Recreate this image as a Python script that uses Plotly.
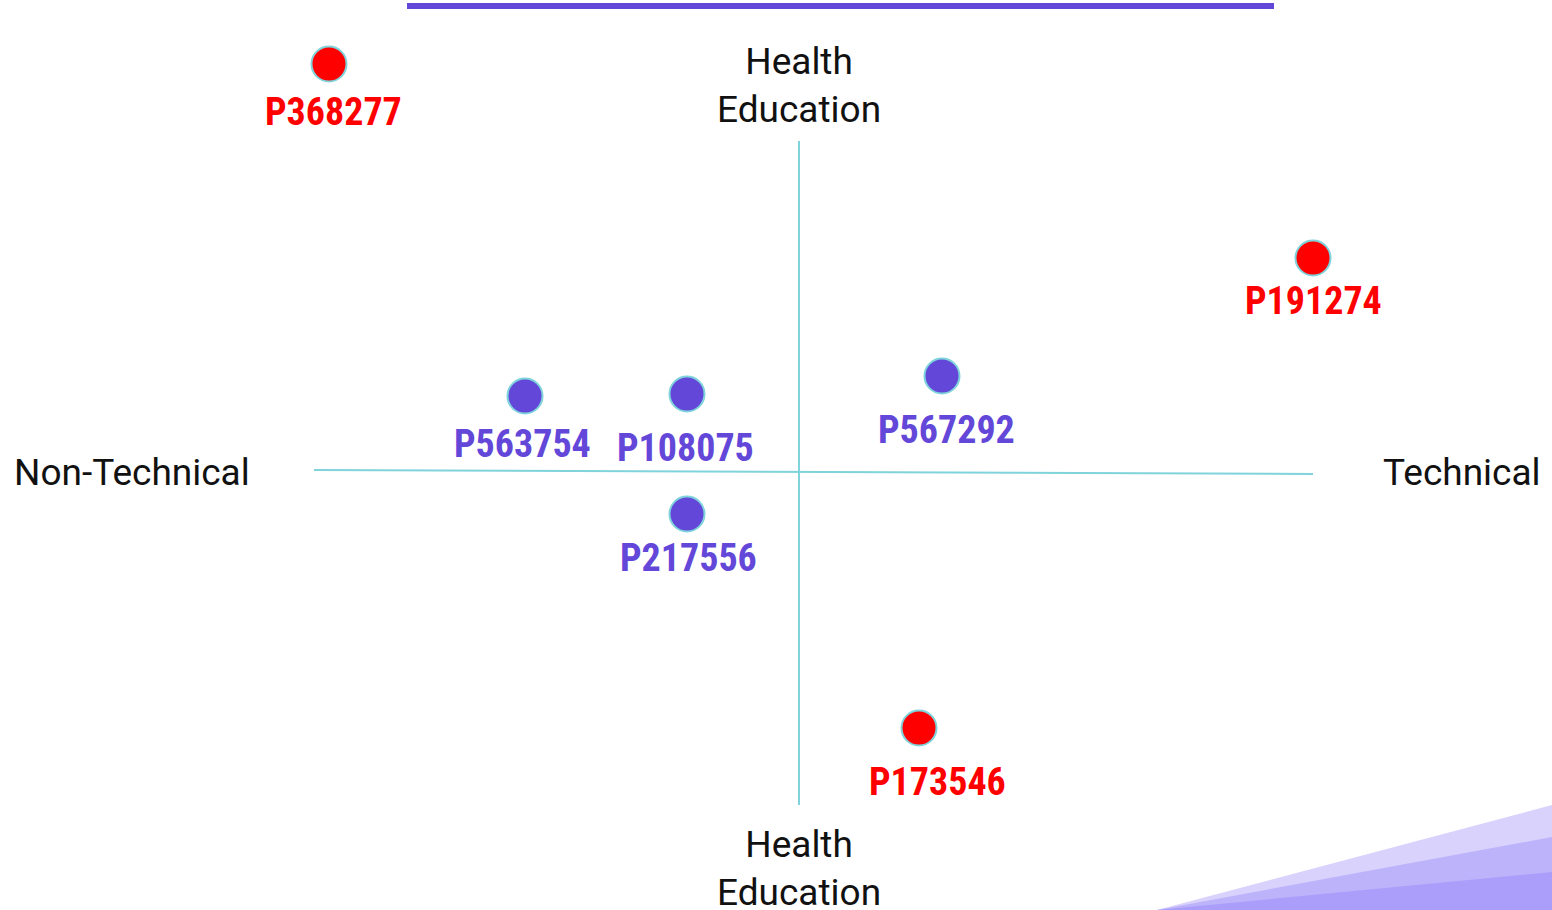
import plotly.graph_objects as go

# Data (units: axis-crossing centred, 1 unit ~ 100 px)
names = ["P368277", "P191274", "P563754", "P108075", "P567292", "P217556", "P173546"]
xs = [-4.70, 5.14, -2.74, -1.12, 1.43, -1.12, 1.20]
ys = [4.08, 2.14, 0.76, 0.78, 0.96, -0.42, -2.56]
groups = ["red", "red", "purple", "purple", "purple", "purple", "red"]

axis_labels = {"top": "Health<br>Education", "bottom": "Health<br>Education",
               "left": "Non-Technical", "right": "Technical"}

RED = "#ff0000"
PURPLE = "#6347d9"
TEAL = "#7fd3db"

# label placement (pixel shifts from marker centre)
label_dx = [4, 0, -3, -2, 4, 1, 18]
label_dy = [-48, -43, -48, -54, -54, -44, -54]

fig = go.Figure()

# quadrant lines
fig.add_trace(go.Scatter(x=[-4.85, 5.14], y=[0.02, -0.02], mode="lines",
                         line=dict(color=TEAL, width=2), hoverinfo="skip", showlegend=False))
fig.add_trace(go.Scatter(x=[0, 0], y=[3.31, -3.33], mode="lines",
                         line=dict(color=TEAL, width=2), hoverinfo="skip", showlegend=False))

for g, col in [("red", RED), ("purple", PURPLE)]:
    idx = [i for i, gg in enumerate(groups) if gg == g]
    fig.add_trace(go.Scatter(
        x=[xs[i] for i in idx], y=[ys[i] for i in idx],
        mode="markers", hovertext=[names[i] for i in idx], hoverinfo="text",
        marker=dict(size=35, color=col, line=dict(color=TEAL, width=2)),
        showlegend=False))

lf = "Noto Sans ExtraCondensed, Noto Sans Condensed, Roboto Condensed, Roboto, sans-serif"
for i, n in enumerate(names):
    col = RED if groups[i] == "red" else PURPLE
    fig.add_annotation(x=xs[i], y=ys[i], text=n, showarrow=False,
                       xshift=label_dx[i], yshift=label_dy[i],
                       font=dict(family=lf, size=38, color=col, weight="bold"))

af = dict(family="Roboto, sans-serif", size=37, color="#111111")
fig.add_annotation(x=0, y=3.87, text=axis_labels["top"], showarrow=False, font=af, align="center")
fig.add_annotation(x=0, y=-3.96, text=axis_labels["bottom"], showarrow=False, font=af, align="center")
fig.add_annotation(x=-6.67, y=0.0, text=axis_labels["left"], showarrow=False, font=af)
fig.add_annotation(x=6.63, y=0.0, text=axis_labels["right"], showarrow=False, font=af)

# decorative shapes (paper coords)
W, H = 1552, 910
def P(px, py):
    return f"{px/W:.4f},{1-py/H:.4f}"
fig.add_shape(type="rect", xref="paper", yref="paper", x0=407/W, x1=1274/W,
              y0=1-9/H, y1=1-3/H, fillcolor=PURPLE, line_width=0, layer="below")
for top, col in [(805, "#d8d2fc"), (837, "#bdb3fb"), (872, "#ab9dfa")]:
    fig.add_shape(type="path", xref="paper", yref="paper",
                  path=f"M {P(1157,910)} L {P(1552,top)} L {P(1552,910)} Z",
                  fillcolor=col, line_width=0, layer="below")

fig.update_layout(
    width=1552, height=910, margin=dict(l=0, r=0, t=0, b=0),
    paper_bgcolor="white", plot_bgcolor="white",
    xaxis=dict(range=[-7.99, 7.53], visible=False, fixedrange=True),
    yaxis=dict(range=[-4.38, 4.72], visible=False, fixedrange=True),
)

fig.write_html("out.html", config={"displayModeBar": False},
               post_script="document.body.style.margin='0';document.body.style.overflow='hidden';")
